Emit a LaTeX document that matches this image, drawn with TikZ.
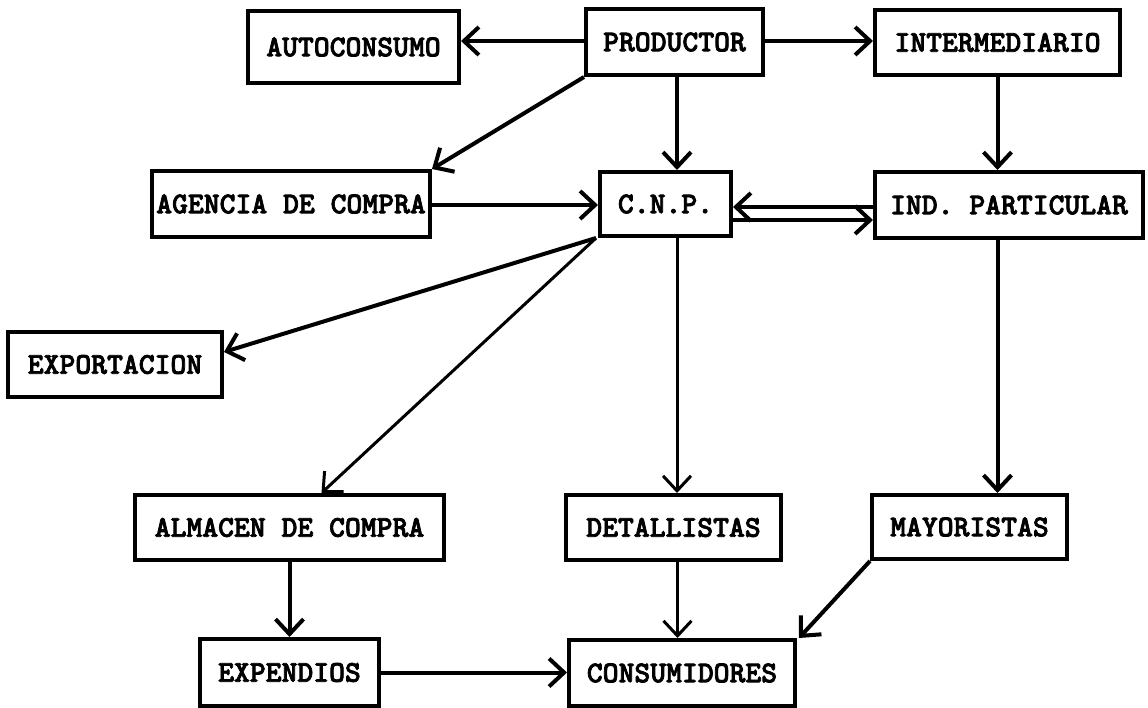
\documentclass[tikz,border=0pt]{standalone}
\usepackage{fontspec}
\newfontfamily\typefont{lmmonolt10-bold.otf}[FakeBold=2.5]
\usetikzlibrary{arrows.meta}

\begin{document}
\begin{tikzpicture}[x=0.5pt,y=-0.5pt,
  box/.style={draw, line width=2pt, inner sep=0pt,
    font=\typefont\fontsize{15.1}{17}\selectfont},
  arr/.style={line width=2pt, -{Straight Barb[length=7.5pt,width=14pt]}},
  thin arr/.style={arr, line width=1.5pt}]

\useasboundingbox (0,0) rectangle (1148,708);

% boxes
\node[box, minimum width=105.5pt, minimum height=36pt] (auto) at (353.5,47) {AUTOCONSUMO};
\node[box, minimum width=88.5pt, minimum height=33pt] (prod) at (674.5,42) {PRODUCTOR};
\node[box, minimum width=122.5pt, minimum height=32.5pt] (inter) at (997.5,42.5) {INTERMEDIARIO};
\node[box, minimum width=139pt, minimum height=33pt] (agen) at (291,204) {AGENCIA DE COMPRA};
\node[box, minimum width=65.5pt, minimum height=32pt] (cnp) at (665.5,204) {C.N.P.};
\node[box, minimum width=134pt, minimum height=33pt] (ind) at (1009,205) {IND. PARTICULAR};
\node[box, minimum width=107pt, minimum height=32.5pt] (expo) at (115,364.5) {EXPORTACION};
\node[box, minimum width=154.5pt, minimum height=32.5pt] (alma) at (289.5,527.5) {ALMACEN DE COMPRA};
\node[box, minimum width=107.5pt, minimum height=32.5pt] (deta) at (673.5,527.5) {DETALLISTAS};
\node[box, minimum width=97.5pt, minimum height=32pt] (mayo) at (969.5,527) {MAYORISTAS};
\node[box, minimum width=89.5pt, minimum height=33.5pt] (expe) at (289.5,672.5) {EXPENDIOS};
\node[box, minimum width=113pt, minimum height=33pt] (cons) at (682,673) {CONSUMIDORES};

% connectors from the producer
\draw[arr] ([yshift=0.5pt]prod.west) -- ([yshift=0.5pt]prod.west -| auto.east);
\draw[arr] ([yshift=0.5pt]prod.east) -- ([yshift=0.5pt]prod.east -| inter.west);
\draw[arr] (prod.south west) -- (agen.north east);
\draw[arr] ([xshift=1.25pt]prod.south) -- ([xshift=1.25pt]prod.south |- cnp.north);

% intermediary and private industry
\draw[arr] (inter.south) -- (inter.south |- ind.north);
\draw[arr] ([yshift=-0.5pt]agen.east) -- ([yshift=-0.5pt]agen.east -| cnp.west);
\draw[arr] ([yshift=-1pt]ind.west) -- ([yshift=-1pt]ind.west -| cnp.east);
\draw[arr] ([yshift=-8pt]cnp.east) -- ([yshift=-8pt]cnp.east -| ind.west);

% distribution from C.N.P.
\coordinate (expoTip) at ([yshift=6.25pt]expo.east);
\coordinate (almaTip) at ([xshift=16pt]alma.north);
\draw[arr] ([xshift=-1pt]cnp.south west) -- (expoTip);
\draw[thin arr] ([xshift=-1pt]cnp.south west) -- (almaTip);
\draw[thin arr] ([xshift=5.75pt]cnp.south) -- ([xshift=5.75pt]cnp.south |- deta.north);
\draw[arr] (ind.south -| inter.south) -- (inter.south |- mayo.north);

% towards the consumers
\draw[arr] (alma.south) -- (alma.south |- expe.north);
\draw[arr] (expe.east) -- (expe.east -| cons.west);
\draw[thin arr] ([xshift=2pt]deta.south) -- ([xshift=2pt]deta.south |- cons.north);
\draw[arr] (mayo.south west) -- ([xshift=1pt]cons.north east);

\end{tikzpicture}
\end{document}
